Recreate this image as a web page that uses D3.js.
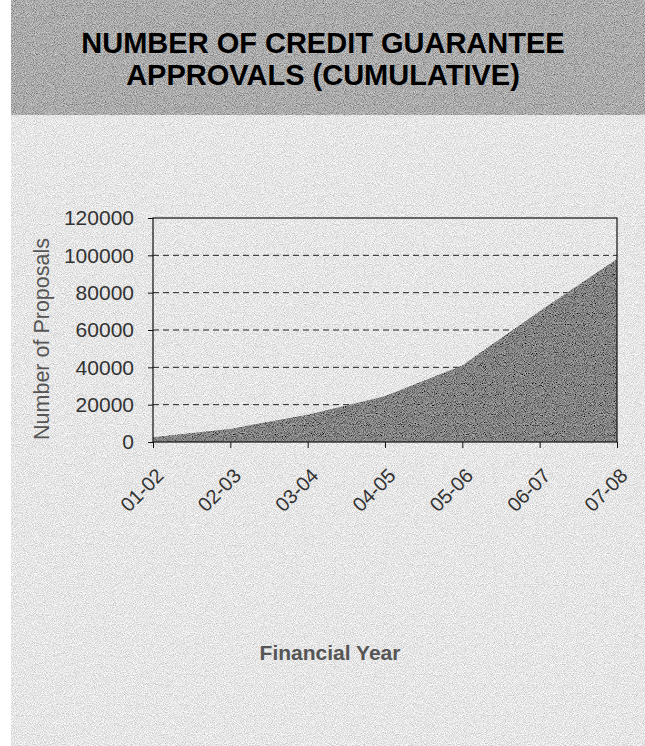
<!DOCTYPE html>
<html>
<head>
<meta charset="utf-8">
<script src="https://cdn.jsdelivr.net/npm/d3@7"></script>
<style>
  html, body { margin: 0; padding: 0; background: #fff; }
  svg { display: block; }
</style>
</head>
<body>
<div id="chart"></div>
<script>
// values
const years = ["01-02", "02-03", "03-04", "04-05", "05-06", "06-07", "07-08"]
const approvals = [2500, 7000, 14600, 24500, 41000, 70000, 98000]
const yTicks = [0, 20000, 40000, 60000, 80000, 100000, 120000]
const titleLines = ["NUMBER OF CREDIT GUARANTEE", "APPROVALS (CUMULATIVE)"]

const width = 645, height = 746
const plot = { left: 153, right: 617, top: 218, bottom: 442 }

const svg = d3.select("#chart").append("svg")
    .attr("width", width)
    .attr("height", height)
    .style("font-family", "'Liberation Sans', Arial, sans-serif")

// scan grain, so flat fills look a bit like the photocopied page
const grain = svg.append("defs").append("filter")
    .attr("id", "grain")
    .attr("x", 0).attr("y", 0).attr("width", 1).attr("height", 1)
grain.append("feTurbulence")
    .attr("type", "fractalNoise")
    .attr("baseFrequency", 1.1)
    .attr("numOctaves", 1)
    .attr("seed", 7)
    .attr("result", "noise")
grain.append("feColorMatrix")
    .attr("in", "noise")
    .attr("type", "matrix")
    .attr("values", "1 0 0 0 0  1 0 0 0 0  1 0 0 0 0  0 0 0 0 1")
    .attr("result", "grey")
grain.append("feComposite")
    .attr("in", "SourceGraphic")
    .attr("in2", "grey")
    .attr("operator", "arithmetic")
    .attr("k1", 0).attr("k2", 1).attr("k3", 0.9).attr("k4", -0.45)
    .attr("result", "mix")
grain.append("feComposite")
    .attr("in", "mix")
    .attr("in2", "SourceGraphic")
    .attr("operator", "in")

// page backgrounds: grey title band and light body
svg.append("rect")
    .attr("x", 11).attr("y", 115)
    .attr("width", width - 11).attr("height", height - 115)
    .attr("fill", "#e6e6e6")
    .attr("filter", "url(#grain)")

svg.append("rect")
    .attr("x", 11).attr("y", 0)
    .attr("width", width - 11).attr("height", 115)
    .attr("fill", "#ababab")
    .attr("filter", "url(#grain)")

svg.append("g")
    .selectAll("text")
    .data(titleLines)
    .join("text")
    .attr("x", 323)
    .attr("y", (d, i) => 53 + i * 32)
    .attr("text-anchor", "middle")
    .attr("font-weight", "bold")
    .attr("font-size", 29)
    .attr("fill", "#000")
    .text(d => d)

const x = d3.scalePoint()
    .domain(years)
    .range([plot.left, plot.right])

const y = d3.scaleLinear()
    .domain([0, 120000])
    .range([plot.bottom, plot.top])

// dashed gridlines
svg.append("g")
    .selectAll("line")
    .data(yTicks.filter(d => d > 0 && d < 120000))
    .join("line")
    .attr("x1", plot.left).attr("x2", plot.right)
    .attr("y1", d => y(d)).attr("y2", d => y(d))
    .attr("stroke", "#222")
    .attr("stroke-width", 1)
    .attr("stroke-dasharray", "6,4")

const area = d3.area()
    .x((d, i) => x(years[i]))
    .y0(y(0))
    .y1(d => y(d))

svg.append("path")
    .datum(approvals)
    .attr("d", area)
    .attr("fill", "#838383")
    .attr("filter", "url(#grain)")

// plot frame
svg.append("rect")
    .attr("x", plot.left).attr("y", plot.top)
    .attr("width", plot.right - plot.left)
    .attr("height", plot.bottom - plot.top)
    .attr("fill", "none")
    .attr("stroke", "#111")
    .attr("stroke-width", 1.2)

svg.append("g")
    .attr("transform", `translate(${plot.left},0)`)
    .call(d3.axisLeft(y).tickValues(yTicks).tickSize(5).tickPadding(14).tickFormat(d3.format("d")))
    .call(g => g.select(".domain").remove())
    .call(g => g.selectAll(".tick line").attr("stroke", "#111"))
    .call(g => g.selectAll(".tick text")
        .attr("font-size", 21)
        .attr("font-family", "'Liberation Sans', Arial, sans-serif")
        .attr("fill", "#333"))

svg.append("g")
    .attr("transform", `translate(0,${plot.bottom})`)
    .call(d3.axisBottom(x).tickSize(6).tickFormat(""))
    .call(g => g.select(".domain").remove())
    .call(g => g.selectAll(".tick line").attr("stroke", "#111"))

svg.append("g")
    .selectAll("text")
    .data(years)
    .join("text")
    .attr("transform", d => `translate(${x(d) + 7},${plot.bottom + 30}) rotate(-45)`)
    .attr("text-anchor", "end")
    .attr("dominant-baseline", "central")
    .attr("font-size", 20)
    .attr("fill", "#333")
    .text(d => d)

svg.append("text")
    .attr("transform", `translate(42,339) rotate(-90)`)
    .attr("text-anchor", "middle")
    .attr("dominant-baseline", "central")
    .attr("font-size", 21.5)
    .attr("fill", "#555")
    .text("Number of Proposals")

svg.append("text")
    .attr("x", 330)
    .attr("y", 652)
    .attr("text-anchor", "middle")
    .attr("dominant-baseline", "central")
    .attr("font-size", 21)
    .attr("font-weight", "bold")
    .attr("fill", "#555")
    .text("Financial Year")
</script>
</body>
</html>
